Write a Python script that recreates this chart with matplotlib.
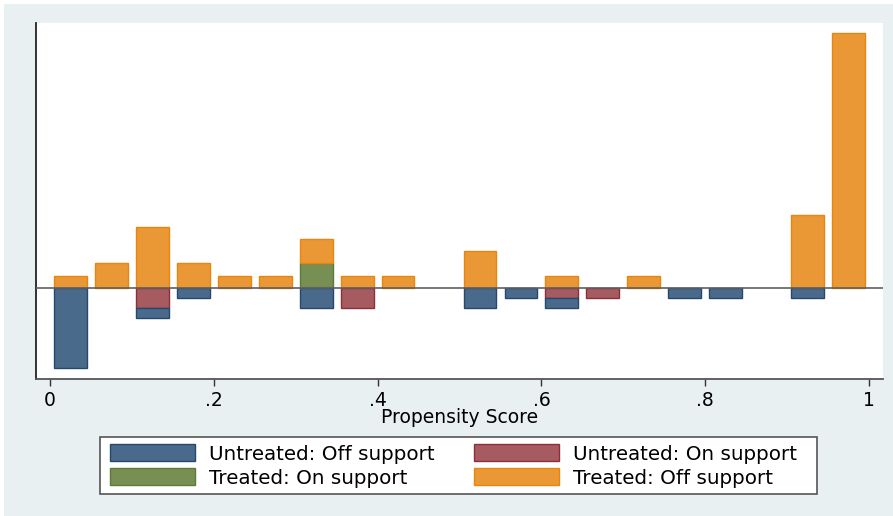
import numpy as np
import matplotlib
matplotlib.use("Agg")
import matplotlib.pyplot as plt
from matplotlib.patches import Patch, Rectangle

# propensity score bins (width .05), bar centres
bin_centers = [0.025, 0.075, 0.125, 0.175, 0.225, 0.275, 0.325, 0.375, 0.425, 0.475,
               0.525, 0.575, 0.625, 0.675, 0.725, 0.775, 0.825, 0.875, 0.925, 0.975]

# counts per bin
treated_on = [0, 0, 0, 0, 0, 0, 2, 0, 0, 0, 0, 0, 0, 0, 0, 0, 0, 0, 0, 0]
treated_off = [1, 2, 5, 2, 1, 1, 2, 1, 1, 0, 3, 0, 1, 0, 1, 0, 0, 0, 6, 21]
untreated_on = [0, 0, 2, 0, 0, 0, 0, 2, 0, 0, 0, 0, 1, 1, 0, 0, 0, 0, 0, 0]
untreated_off = [8, 0, 1, 1, 0, 0, 2, 0, 0, 0, 2, 1, 1, 0, 0, 1, 1, 0, 1, 0]

# untreated bars are drawn on a smaller scale than treated ones
untreated_scale = 0.823

xticks = [0, 0.2, 0.4, 0.6, 0.8, 1]
xtick_labels = ["0", ".2", ".4", ".6", ".8", "1"]

labels = ["Untreated: Off support", "Untreated: On support",
          "Treated: On support", "Treated: Off support"]

c_blue, e_blue = "#4a6a8b", "#24486e"
c_red, e_red = "#a65b60", "#8c2f3b"
c_green, e_green = "#778f52", "#5d7a3a"
c_orange, e_orange = "#ea9835", "#e8850f"

plt.rcParams["font.family"] = ["DejaVu Sans"]

fig = plt.figure(figsize=(8.93, 5.16), dpi=100, facecolor="white")
# light bluish graph region (white strip left and top)
fig.patches.append(Rectangle((4 / 893, 0), 1, 512 / 516, transform=fig.transFigure,
                             facecolor="#e8f0f2", edgecolor="none", zorder=-10))

ax = fig.add_axes([36 / 893, 137 / 516, 847 / 893, 356 / 516])
ax.set_facecolor("white")

x = np.array(bin_centers)
t_on = np.array(treated_on, dtype=float)
t_off = np.array(treated_off, dtype=float)
u_on = -np.array(untreated_on, dtype=float) * untreated_scale
u_off = -np.array(untreated_off, dtype=float) * untreated_scale

w = 0.04
def bars(height, bottom, fc, ec):
    m = height != 0
    ax.bar(x[m], height[m], w, bottom=bottom[m], color=fc, edgecolor=ec,
           linewidth=1, zorder=2)

zero = np.zeros_like(x)
bars(t_on, zero, c_green, e_green)
bars(t_off, t_on, c_orange, e_orange)
bars(u_on, zero, c_red, e_red)
bars(u_off, u_on, c_blue, e_blue)

ax.axhline(0, color="#606060", linewidth=1.2, zorder=3)

ax.set_xlim(-0.0171, 1.0171)
ax.set_ylim(-7.51, 21.79)
ax.set_yticks([])
ax.set_xticks(xticks)
ax.set_xticklabels(xtick_labels, fontsize=13.5)
ax.tick_params(axis="x", direction="out", length=5, width=1, color="#333333", pad=4)
ax.set_xlabel("Propensity Score", fontsize=13.5, labelpad=-2)

for s in ["top", "right"]:
    ax.spines[s].set_visible(False)
ax.spines["left"].set_color("#222222")
ax.spines["left"].set_linewidth(1.3)
ax.spines["bottom"].set_color("#555555")
ax.spines["bottom"].set_linewidth(1.3)

# legend box
fig.patches.append(Rectangle((100 / 893, 1 - 494 / 516), 717 / 893, 57 / 516,
                             transform=fig.transFigure, facecolor="white",
                             edgecolor="#555555", linewidth=1.2, zorder=1))

handles = {
    "Untreated: Off support": Patch(facecolor=c_blue, edgecolor=e_blue),
    "Untreated: On support": Patch(facecolor=c_red, edgecolor=e_red),
    "Treated: On support": Patch(facecolor=c_green, edgecolor=e_green),
    "Treated: Off support": Patch(facecolor=c_orange, edgecolor=e_orange),
}
# legend fills column by column, so reorder to get the rows right
order = [labels[0], labels[2], labels[1], labels[3]]
leg = fig.legend([handles[k] for k in order], order, ncol=2, loc="center left",
                 bbox_to_anchor=(110 / 893, 1 - 466 / 516), frameon=False,
                 fontsize=14.3, handlelength=4.28, handleheight=0.9,
                 handletextpad=0.7, labelspacing=0.25, borderpad=0,
                 borderaxespad=0, columnspacing=2.0)
leg.set_zorder(2)

fig.savefig("out.png", dpi=100, facecolor="white")
